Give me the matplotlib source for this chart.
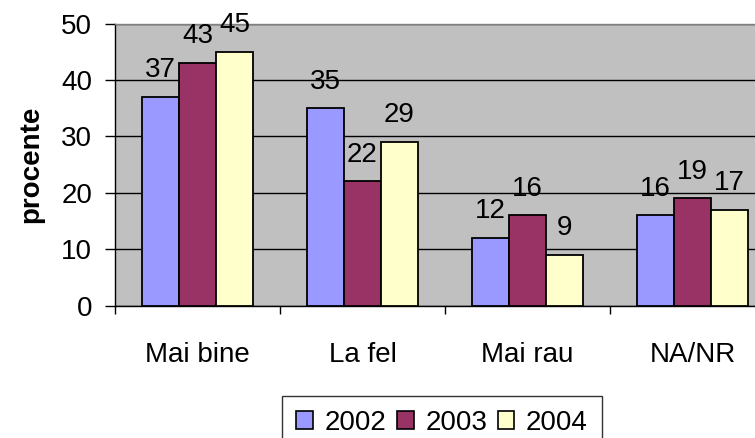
import numpy as np
import matplotlib.pyplot as plt
from matplotlib.patches import Patch

categories = ['Mai bine', 'La fel', 'Mai rau', 'NA/NR']
years = ['2002', '2003', '2004']
v2002 = [37, 35, 12, 16]
v2003 = [43, 22, 16, 19]
v2004 = [45, 29, 9, 17]
colors = ['#9999FF', '#993366', '#FFFFCC']

plt.rcParams['font.family'] = ['Liberation Sans', 'DejaVu Sans']
fs = 20

W, H = 755, 438
fig = plt.figure(figsize=(W / 100, H / 100), dpi=100)
# plot area continues past the right edge (image is cropped)
left, right, top, bottom = 115, 775, 23.5, 305.5
ax = fig.add_axes([left / W, 1 - bottom / H, (right - left) / W, (bottom - top) / H])
ax.set_facecolor('#C0C0C0')

x = np.arange(len(categories))
bw = 0.224
for i, (vals, c) in enumerate(zip([v2002, v2003, v2004], colors)):
    pos = x + (i - 1) * bw
    ax.bar(pos, vals, bw, color=c, edgecolor='black', linewidth=1.3, zorder=3)
    for p, v in zip(pos, vals):
        ax.annotate(str(v), (p, v), xytext=(0, 19.5), textcoords='offset pixels',
                    ha='center', va='baseline', fontsize=fs, zorder=4)

ax.set_xlim(-0.5, len(categories) - 0.5)
ax.set_ylim(0, 50)
ax.set_yticks(range(0, 51, 10))
ax.yaxis.grid(True, color='black', linewidth=1)
ax.set_axisbelow(True)

ax.set_xticks(x)
ax.set_xticklabels(categories, fontsize=fs)
ax.set_xticks(np.arange(-0.5, len(categories), 1), minor=True)
ax.tick_params(axis='x', which='major', length=0, pad=26)
ax.tick_params(axis='x', which='minor', length=6, width=1, direction='out')
ax.tick_params(axis='y', length=7, width=1, direction='out', labelsize=fs, pad=9.5)

for s in ['top', 'right']:
    ax.spines[s].set_color('#808080')
    ax.spines[s].set_linewidth(1)
for s in ['left', 'bottom']:
    ax.spines[s].set_color('black')
    ax.spines[s].set_linewidth(1)

ax.set_ylabel('procente', fontsize=fs, fontweight='bold', labelpad=12)

handles = [Patch(facecolor=c, edgecolor='black', linewidth=1.2) for c in colors]
leg = fig.legend(handles, years, loc='upper center', ncol=3,
                 bbox_to_anchor=(442 / W, 1 - 396 / H), fontsize=fs,
                 frameon=True, fancybox=False, handlelength=0.6, handleheight=0.6,
                 handletextpad=0.42, columnspacing=0.38, borderpad=0.5,
                 borderaxespad=0)
leg.get_frame().set_edgecolor('black')
leg.get_frame().set_linewidth(1)

fig.savefig('out.png', dpi=100)
